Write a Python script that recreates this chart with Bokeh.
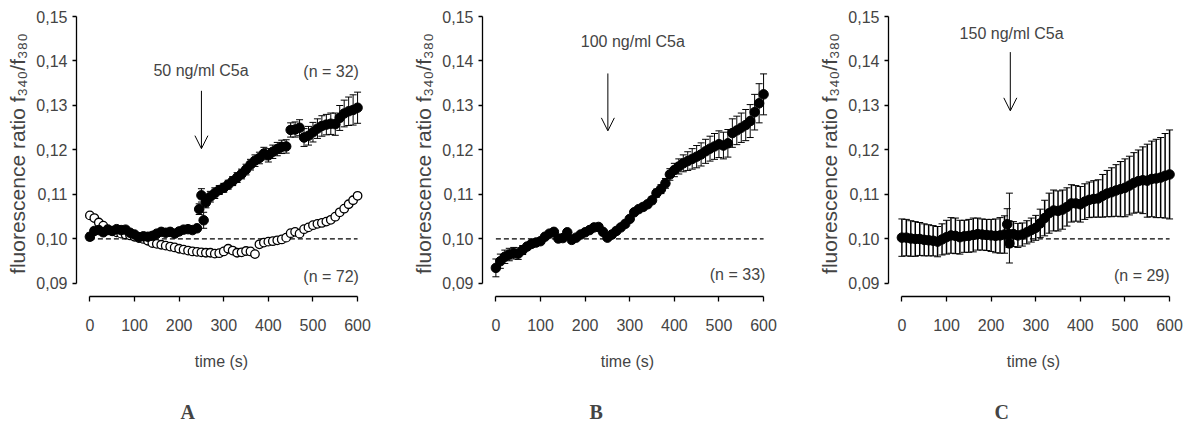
import numpy as np
from bokeh.plotting import figure
from bokeh.layouts import row
from bokeh.models import (Range1d, FixedTicker, CustomJSTickFormatter, Whisker, TeeHead,
                          ColumnDataSource, Arrow, OpenHead, Label, Title)
from bokeh.embed import file_html
from bokeh.resources import INLINE

# ---------------- data ----------------
x_ticks = [0, 100, 200, 300, 400, 500, 600]
y_ticks = [0.09, 0.10, 0.11, 0.12, 0.13, 0.14, 0.15]
baseline = 0.10
baseline_t = [0, 600]

# Panel A: 50 ng/ml C5a (n = 32, filled)
time_a = list(range(0, 241, 10)) + [245, 250, 255] + list(range(260, 601, 10))
ratio_a = [0.1005, 0.1018, 0.1020, 0.1015, 0.1020, 0.1018, 0.1022, 0.1020, 0.1021, 0.1014,
           0.1010, 0.1004, 0.1006, 0.1005, 0.1007, 0.1012, 0.1016, 0.1014, 0.1016, 0.1012,
           0.1017, 0.1021, 0.1022, 0.1020, 0.1024,
           0.1067, 0.1098, 0.1042,
           0.1082, 0.1095, 0.1103, 0.1110, 0.1115, 0.1122, 0.1130, 0.1138, 0.1146, 0.1156,
           0.1167, 0.1176, 0.1182, 0.1192, 0.1188, 0.1196, 0.1202, 0.1207, 0.1208, 0.1245,
           0.1246, 0.1250, 0.1228, 0.1232, 0.1240, 0.1248, 0.1254, 0.1257, 0.1259, 0.1258,
           0.1272, 0.1282, 0.1287, 0.1290, 0.1295]
sem_a = [0.0008, 0.0007, 0.0006, 0.0006, 0.0005, 0.0005, 0.0006, 0.0006, 0.0005, 0.0005,
         0.0004, 0.0004, 0.0004, 0.0004, 0.0004, 0.0005, 0.0005, 0.0005, 0.0005, 0.0005,
         0.0005, 0.0005, 0.0005, 0.0005, 0.0006,
         0.0012, 0.0015, 0.0018,
         0.0012, 0.0012, 0.0012, 0.0010, 0.0010, 0.0010, 0.0010, 0.0011, 0.0011, 0.0012,
         0.0012, 0.0013, 0.0013, 0.0014, 0.0015, 0.0015, 0.0015, 0.0015, 0.0015, 0.0016,
         0.0017, 0.0018, 0.0020, 0.0021, 0.0022, 0.0022, 0.0023, 0.0023, 0.0024, 0.0025,
         0.0028, 0.0030, 0.0032, 0.0034, 0.0035]

# Panel A: control (n = 72, open)
time_ctrl = list(range(0, 601, 10))
ratio_ctrl = [0.1053, 0.1047, 0.1037, 0.1030, 0.1022, 0.1018, 0.1015, 0.1012, 0.1010, 0.1008,
              0.1005, 0.1002, 0.1000, 0.0996, 0.0991, 0.0989, 0.0987, 0.0985, 0.0983, 0.0981,
              0.0978, 0.0976, 0.0974, 0.0972, 0.0971, 0.0970, 0.0969, 0.0969, 0.0967, 0.0968,
              0.0972, 0.0978, 0.0974, 0.0969, 0.0970, 0.0973, 0.0972, 0.0966, 0.0988, 0.0992,
              0.0994, 0.0995, 0.0997, 0.0999, 0.1003, 0.1013, 0.1016, 0.1012, 0.1022, 0.1026,
              0.1031, 0.1034, 0.1036, 0.1039, 0.1043, 0.1050, 0.1060, 0.1068, 0.1078, 0.1087,
              0.1097]

# Panel B: 100 ng/ml C5a (n = 33)
time_b = list(range(0, 601, 10))
ratio_b = [0.0935, 0.0950, 0.0960, 0.0965, 0.0968, 0.0967, 0.0975, 0.0983, 0.0989, 0.0992,
           0.0995, 0.1005, 0.1012, 0.1016, 0.1001, 0.1002, 0.1015, 0.0998, 0.1003, 0.1010,
           0.1015, 0.1020, 0.1026, 0.1027, 0.1016, 0.1003, 0.1010, 0.1018, 0.1026, 0.1034,
           0.1045, 0.1060, 0.1067, 0.1072, 0.1078, 0.1087, 0.1103, 0.1112, 0.1125, 0.1145,
           0.1155, 0.1163, 0.1170, 0.1175, 0.1180, 0.1185, 0.1190, 0.1197, 0.1203, 0.1208,
           0.1213, 0.1210, 0.1215, 0.1238, 0.1244, 0.1250, 0.1256, 0.1265, 0.1285, 0.1305,
           0.1325]
sem_b = [0.0020, 0.0016, 0.0015, 0.0014, 0.0013, 0.0013, 0.0010, 0.0006, 0.0005, 0.0005,
         0.0004, 0.0004, 0.0004, 0.0004, 0.0004, 0.0004, 0.0004, 0.0004, 0.0004, 0.0004,
         0.0004, 0.0004, 0.0004, 0.0004, 0.0004, 0.0005, 0.0005, 0.0005, 0.0005, 0.0005,
         0.0006, 0.0006, 0.0006, 0.0007, 0.0007, 0.0008, 0.0009, 0.0010, 0.0011, 0.0013,
         0.0015, 0.0017, 0.0019, 0.0021, 0.0023, 0.0025, 0.0026, 0.0027, 0.0028, 0.0029,
         0.0030, 0.0030, 0.0031, 0.0032, 0.0032, 0.0033, 0.0035, 0.0037, 0.0040, 0.0044,
         0.0046]

# Panel C: 150 ng/ml C5a (n = 29)
time_c = list(range(0, 601, 10))
ratio_c = [0.1003, 0.1003, 0.1001, 0.1000, 0.1000, 0.0998, 0.0997, 0.0996, 0.0994, 0.0999,
           0.1004, 0.1008, 0.1007, 0.1004, 0.1006, 0.1007, 0.1009, 0.1011, 0.1010, 0.1009,
           0.1008, 0.1007, 0.1008, 0.1010, 0.1011, 0.1011, 0.1008, 0.1010, 0.1015, 0.1020,
           0.1025, 0.1035, 0.1047, 0.1058, 0.1064, 0.1063, 0.1066, 0.1072, 0.1080, 0.1080,
           0.1078, 0.1084, 0.1088, 0.1090, 0.1091, 0.1097, 0.1102, 0.1105, 0.1109, 0.1112,
           0.1115, 0.1120, 0.1126, 0.1130, 0.1132, 0.1131, 0.1135, 0.1136, 0.1138, 0.1142,
           0.1145]
sem_c = [0.0042, 0.0041, 0.0040, 0.0039, 0.0037, 0.0036, 0.0035, 0.0034, 0.0034, 0.0035,
         0.0038, 0.0040, 0.0040, 0.0038, 0.0036, 0.0037, 0.0038, 0.0036, 0.0035, 0.0035,
         0.0036, 0.0038, 0.0040, 0.0042, 0.0030, 0.0028, 0.0027, 0.0026, 0.0026, 0.0027,
         0.0028, 0.0032, 0.0040, 0.0045, 0.0046, 0.0045, 0.0044, 0.0043, 0.0042, 0.0040,
         0.0040, 0.0040, 0.0040, 0.0041, 0.0042, 0.0048, 0.0052, 0.0055, 0.0058, 0.0062,
         0.0065, 0.0066, 0.0068, 0.0070, 0.0075, 0.0082, 0.0085, 0.0088, 0.0090, 0.0095,
         0.0100]
time_c_extra = [236, 241]
ratio_c_extra = [0.1033, 0.0990]
low_c_extra = [0.0998, 0.0946]
high_c_extra = [0.1068, 0.1103]

panel_letters = ["A", "B", "C"]

# ---------------- style ----------------
SANS = "Liberation Sans, Arial, sans-serif"
SERIF = "Liberation Serif, DejaVu Serif, serif"
FS = "16px"


def make_panel(letter, mbl, mbr, letter_offset):
    p = figure(frame_width=290, frame_height=286,
               x_range=Range1d(-30, 620), y_range=Range1d(0.08707, 0.15135),
               output_backend="svg", toolbar_location=None,
               min_border_left=mbl, min_border_right=mbr, min_border_top=10,
               min_border_bottom=110)
    p.grid.visible = False
    p.outline_line_color = None
    p.background_fill_color = "white"

    xa = p.xaxis[0]
    xa.ticker = FixedTicker(ticks=x_ticks)
    xa.bounds = (0, 600)
    xa.major_tick_out = 5
    xa.major_tick_in = 0
    xa.minor_tick_out = 0
    xa.minor_tick_in = 0
    xa.axis_line_width = 1.3
    xa.major_tick_line_width = 1.3
    xa.major_label_text_font = SANS
    xa.major_label_text_font_size = FS
    xa.major_label_standoff = 17
    xa.axis_label = "time (s)"
    xa.axis_label_text_font = SANS
    xa.axis_label_text_font_size = FS
    xa.axis_label_text_font_style = "normal"
    xa.axis_label_standoff = 19

    ya = p.yaxis[0]
    ya.ticker = FixedTicker(ticks=y_ticks)
    ya.formatter = CustomJSTickFormatter(code="return tick.toFixed(2).replace('.', ',');")
    ya.bounds = (0.09, 0.15)
    ya.major_tick_out = 4
    ya.major_tick_in = 0
    ya.minor_tick_out = 0
    ya.minor_tick_in = 0
    ya.axis_line_width = 1.3
    ya.major_tick_line_width = 1.3
    ya.major_label_text_font = SANS
    ya.major_label_text_font_size = FS
    ya.major_label_standoff = 5
    ya.axis_label = "fluorescence ratio f\u2083\u2084\u2080/f\u2083\u2088\u2080"
    ya.axis_label_text_font = SANS
    ya.axis_label_text_font_size = "21px"
    ya.axis_label_text_font_style = "normal"
    ya.axis_label_standoff = 4

    p.line(baseline_t, [baseline, baseline], line_color="black", line_width=1.3,
           line_dash="5 3")

    # spacer, then the panel letter below the axis title
    p.add_layout(Title(text=" ", text_font_size="10px", standoff=13), "below")
    p.add_layout(Title(text=letter, align="left", offset=letter_offset,
                       text_font=SERIF, text_font_size="20px", text_font_style="bold",
                       standoff=0), "below")
    return p


def add_series(p, t, v, err, size=9.5, bar_width=1.0):
    lo = (np.array(v) - np.array(err)).tolist()
    hi = (np.array(v) + np.array(err)).tolist()
    src = ColumnDataSource(dict(t=t, v=v, lo=lo, hi=hi))
    w = Whisker(base="t", lower="lo", upper="hi", source=src, line_color="black",
                line_width=bar_width, level="underlay",
                upper_head=TeeHead(size=7, line_width=1, line_color="black"),
                lower_head=TeeHead(size=7, line_width=1, line_color="black"))
    p.add_layout(w)
    p.scatter("t", "v", source=src, size=size, fill_color="black", line_color="black")


def annotate(p, label_txt, tx, ty, ax, ay0, ay1):
    p.add_layout(Label(x=tx, y=ty, text=label_txt, text_align="center",
                       text_baseline="middle", text_font=SANS, text_font_size=FS))
    p.add_layout(Arrow(end=OpenHead(size=13, line_width=1, line_color="black"),
                       x_start=ax, y_start=ay0, x_end=ax, y_end=ay1,
                       line_width=1, line_color="black"))


def n_label(p, txt, tx, ty):
    p.add_layout(Label(x=tx, y=ty, text=txt, text_align="right",
                       text_baseline="middle", text_font=SANS, text_font_size=FS))


# Panel A
pa = make_panel(panel_letters[0], 76, 43, 104)
pa.scatter(time_ctrl, ratio_ctrl, size=8.5, fill_color="white", line_color="black",
           line_width=1.3)
add_series(pa, time_a, ratio_a, sem_a)
annotate(pa, "50 ng/ml C5a", 249, 0.1378, 250, 0.1333, 0.1203)
n_label(pa, "(n = 32)", 603, 0.1376)
n_label(pa, "(n = 72)", 603, 0.0915)

# Panel B
pb = make_panel(panel_letters[1], 71, 43, 107)
add_series(pb, time_b, ratio_b, sem_b)
annotate(pb, "100 ng/ml C5a", 307, 0.1444, 251, 0.1372, 0.1243)
n_label(pb, "(n = 33)", 604, 0.0921)

# Panel C
pc = make_panel(panel_letters[2], 71, 5, 106)
add_series(pc, time_c, ratio_c, sem_c, bar_width=1.5)
src_x = ColumnDataSource(dict(t=time_c_extra, v=ratio_c_extra, lo=low_c_extra, hi=high_c_extra))
pc.add_layout(Whisker(base="t", lower="lo", upper="hi", source=src_x, line_color="black",
                      line_width=1, level="underlay",
                      upper_head=TeeHead(size=7, line_width=1, line_color="black"),
                      lower_head=TeeHead(size=7, line_width=1, line_color="black")))
pc.scatter("t", "v", source=src_x, size=9.5, fill_color="black", line_color="black")
annotate(pc, "150 ng/ml C5a", 246, 0.1461, 243, 0.1420, 0.1288)
n_label(pc, "(n = 29)", 600, 0.0919)

layout = row(pa, pb, pc, spacing=0)
open("out.html", "w").write(file_html(layout, INLINE))
